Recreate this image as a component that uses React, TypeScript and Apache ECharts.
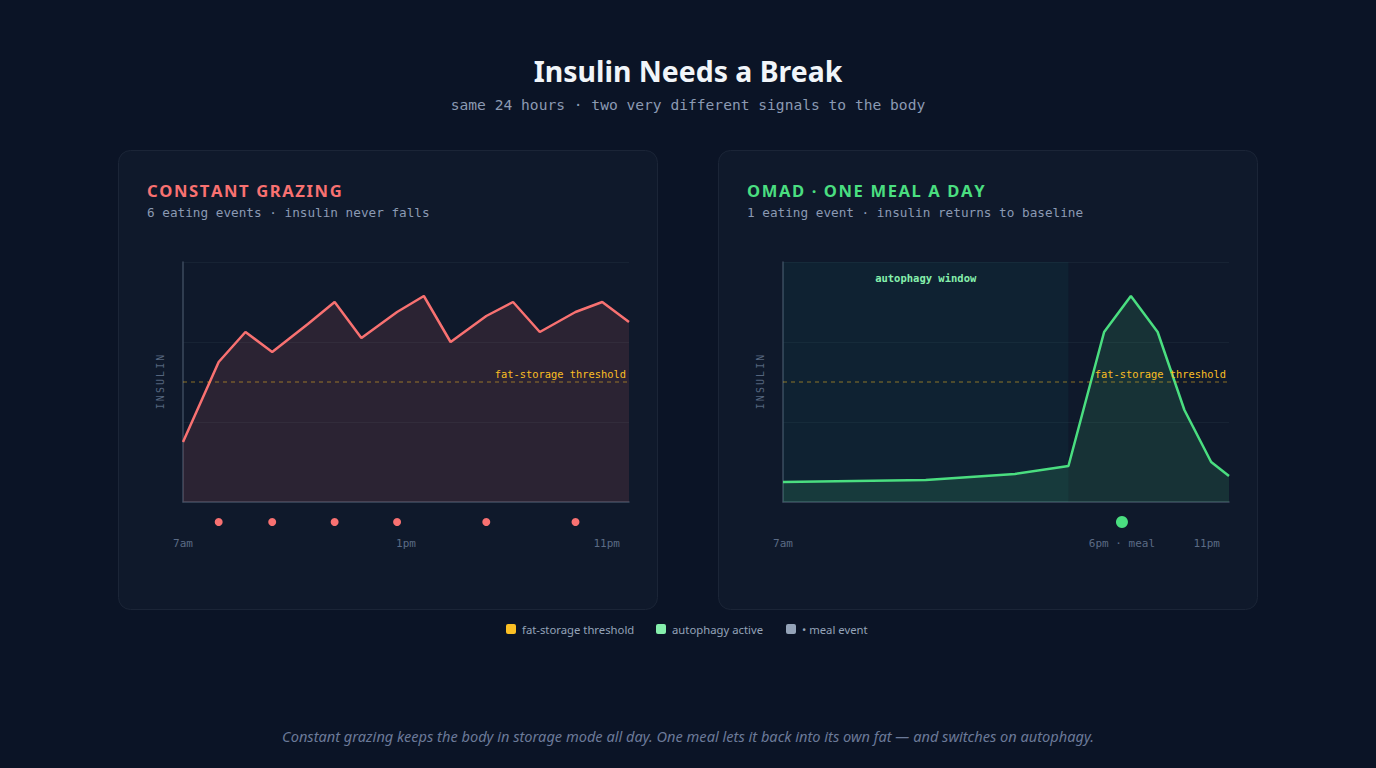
import React, { useEffect, useRef } from "react";
import * as echarts from "echarts";

// ---- data ----
const grazingX = [0, 8, 14, 20, 28, 34, 40, 48, 54, 60, 68, 74, 80, 88, 94, 100];
const grazingInsulin = [30, 70, 85, 75, 89, 100, 82, 95, 103, 80, 93, 100, 85, 95, 100, 90];
const grazingMeals = [8, 20, 34, 48, 68, 88];
const grazingTickValues = [0, 50, 95];
const grazingTickLabels = ["7am", "1pm", "11pm"];

const omadX = [0, 32, 52, 64, 72, 78, 84, 90, 96, 100];
const omadInsulin = [10, 11, 14, 18, 85, 103, 85, 46, 20, 13];
const omadMeals = [76];
const omadTickValues = [0, 76, 95];
const omadTickLabels = ["7am", "6pm · meal", "11pm"];

const threshold = 60;
const autophagyWindow = [0, 64];

const legendLabels = ["fat-storage threshold", "autophagy active", "• meal event"];

// ---- style ----
const SANS = "'Noto Sans', 'Open Sans', sans-serif";
const MONO = "'DejaVu Sans Mono', monospace";
const BG = "#0b1426";
const CARD = "#0f192b";
const RED = "#f87171";
const GREEN = "#4ade80";
const AMBER = "#fbbf24";
const MUTED = "#8b9ab3";
const AXIS = "#3d4a5e";
const TICK = "#5b6b85";

function spaced(str: string, key: string) {
  return str
    .split("")
    .map((c) => `{${key}|${c}}`)
    .join("{sp| }");
}

function buildOption() {
  const grids = [
    { left: 183, top: 262, width: 446, height: 240 },
    { left: 783, top: 262, width: 446, height: 240 },
    { left: 183, top: 512, width: 446, height: 20 },
    { left: 783, top: 512, width: 446, height: 20 },
  ];

  const mainX = (vals: number[], labels: string[], gi: number) => ({
    type: "value",
    gridIndex: gi,
    min: 0,
    max: 100,
    axisLine: { show: true, lineStyle: { color: AXIS, width: 1.5 } },
    axisTick: { show: false },
    splitLine: { show: false },
    axisLabel: {
      show: true,
      customValues: vals,
      margin: 36,
      color: TICK,
      fontFamily: MONO,
      fontSize: 11,
      formatter: (v: number) => labels[vals.indexOf(v)] ?? "",
    },
  });

  const insulinName = spaced("INSULIN", "l");
  const mainY = (gi: number) => ({
    type: "value",
    gridIndex: gi,
    min: 0,
    max: 120,
    interval: 40,
    name: insulinName,
    nameLocation: "middle",
    nameGap: 18,
    nameRotate: 90,
    nameTextStyle: {
      rich: {
        l: { fontFamily: MONO, fontSize: 10, color: "#55657e" },
        sp: { fontFamily: "DejaVu Sans", fontSize: 6.5 },
      },
    },
    axisLine: { show: true, lineStyle: { color: AXIS, width: 1.5 } },
    axisTick: { show: false },
    axisLabel: { show: false },
    splitLine: { show: true, lineStyle: { color: "rgba(148,163,184,0.07)", width: 1 } },
  });

  const hiddenX = (gi: number) => ({ type: "value", gridIndex: gi, min: 0, max: 100, show: false });
  const hiddenY = (gi: number) => ({ type: "value", gridIndex: gi, min: 0, max: 1, show: false });

  const thresholdMarkLine = {
    silent: true,
    symbol: "none",
    lineStyle: { color: "rgba(251,191,36,0.35)", type: [4, 4], width: 1.5 },
    label: {
      show: true,
      position: "insideEndTop",
      formatter: "fat-storage threshold",
      color: AMBER,
      fontFamily: MONO,
      fontSize: 10.4,
      distance: 3,
    },
    data: [{ yAxis: threshold }],
  };

  const cardTitle = (x: number, text: string, color: string) => ({
    type: "text",
    left: x,
    top: 182,
    style: {
      text: spaced(text, "t"),
      rich: {
        t: { fontFamily: SANS, fontWeight: "bold", fontSize: 16.6, fill: color },
        sp: { fontFamily: "DejaVu Sans", fontSize: 5 },
      },
    },
  });

  const cardSub = (x: number, text: string) => ({
    type: "text",
    left: x,
    top: 206,
    style: { text, fontFamily: MONO, fontSize: 12.7, fill: MUTED },
  });

  const card = (x: number) => ({
    type: "rect",
    shape: { x: x + 0.5, y: 150.5, width: 539, height: 459, r: 12 },
    style: { fill: CARD, stroke: "#1b2537", lineWidth: 1 },
    z: -10,
  });

  const legendColors = [AMBER, "#86efac", "#94a3b8"];
  const legendXs = [506, 656, 786];
  const legendItems: any[] = [];
  legendLabels.forEach((lab, i) => {
    legendItems.push({
      type: "rect",
      shape: { x: legendXs[i], y: 624, width: 10, height: 10, r: 2 },
      style: { fill: legendColors[i] },
    });
    legendItems.push({
      type: "text",
      x: legendXs[i] + 16,
      y: 629,
      style: {
        text: lab,
        fontFamily: SANS,
        fontSize: 11.3,
        fill: "#94a3b8",
        verticalAlign: "middle",
      },
    });
  });

  return {
    animation: false,
    backgroundColor: BG,
    title: [
      {
        text: "Insulin Needs a Break",
        left: "center",
        top: 52,
        textStyle: { fontFamily: SANS, fontWeight: "bold", fontSize: 28.4, color: "#f1f5f9" },
      },
      {
        text: "same 24 hours · two very different signals to the body",
        left: "center",
        top: 92,
        textStyle: { fontFamily: MONO, fontWeight: "normal", fontSize: 14.6, color: MUTED },
      },
    ],
    grid: grids,
    xAxis: [
      mainX(grazingTickValues, grazingTickLabels, 0),
      mainX(omadTickValues, omadTickLabels, 1),
      hiddenX(2),
      hiddenX(3),
    ],
    yAxis: [mainY(0), mainY(1), hiddenY(2), hiddenY(3)],
    graphic: [
      card(118),
      card(718),
      cardTitle(147, "CONSTANT GRAZING", RED),
      cardSub(147, "6 eating events · insulin never falls"),
      cardTitle(747, "OMAD · ONE MEAL A DAY", GREEN),
      cardSub(747, "1 eating event · insulin returns to baseline"),
      ...legendItems,
      {
        type: "text",
        left: "center",
        top: 728,
        style: {
          text: "Constant grazing keeps the body in storage mode all day. One meal lets it back into its own fat — and switches on autophagy.",
          fontFamily: SANS,
          fontStyle: "italic",
          fontSize: 14.6,
          fill: "#6b7a99",
        },
      },
    ],
    series: [
      {
        type: "line",
        name: "grazing",
        xAxisIndex: 0,
        yAxisIndex: 0,
        data: grazingX.map((x, i) => [x, grazingInsulin[i]]),
        symbol: "none",
        lineStyle: { color: RED, width: 2.5 },
        areaStyle: { color: "rgba(248,113,113,0.12)", opacity: 1 },
        markLine: thresholdMarkLine,
        z: 3,
      },
      {
        type: "line",
        name: "omad",
        xAxisIndex: 1,
        yAxisIndex: 1,
        data: omadX.map((x, i) => [x, omadInsulin[i]]),
        symbol: "none",
        lineStyle: { color: GREEN, width: 2.5 },
        areaStyle: { color: "rgba(74,222,128,0.13)", opacity: 1 },
        markLine: thresholdMarkLine,
        markArea: {
          silent: true,
          itemStyle: { color: "rgba(20,184,166,0.06)" },
          label: {
            show: true,
            position: "insideTop",
            distance: 10,
            color: "#86efac",
            fontFamily: MONO,
            fontWeight: "bold",
            fontSize: 10.5,
          },
          data: [[{ xAxis: autophagyWindow[0], name: "autophagy window" }, { xAxis: autophagyWindow[1] }]],
        },
        z: 3,
      },
      {
        type: "scatter",
        xAxisIndex: 2,
        yAxisIndex: 2,
        data: grazingMeals.map((m) => [m, 0.5]),
        symbolSize: 8,
        itemStyle: { color: RED, opacity: 1 },
      },
      {
        type: "scatter",
        xAxisIndex: 3,
        yAxisIndex: 3,
        data: omadMeals.map((m) => [m, 0.5]),
        symbolSize: 12,
        itemStyle: { color: GREEN, opacity: 1 },
      },
    ],
  };
}

export default function App() {
  const ref = useRef<HTMLDivElement>(null);
  useEffect(() => {
    if (!ref.current) return;
    document.body.style.margin = "0";
    const chart = echarts.init(ref.current, null, { renderer: "svg" });
    chart.setOption(buildOption() as any);
    return () => chart.dispose();
  }, []);
  return (
    <div
      ref={ref}
      style={{ position: "absolute", left: 0, top: 0, width: 1376, height: 768, background: BG }}
    />
  );
}
